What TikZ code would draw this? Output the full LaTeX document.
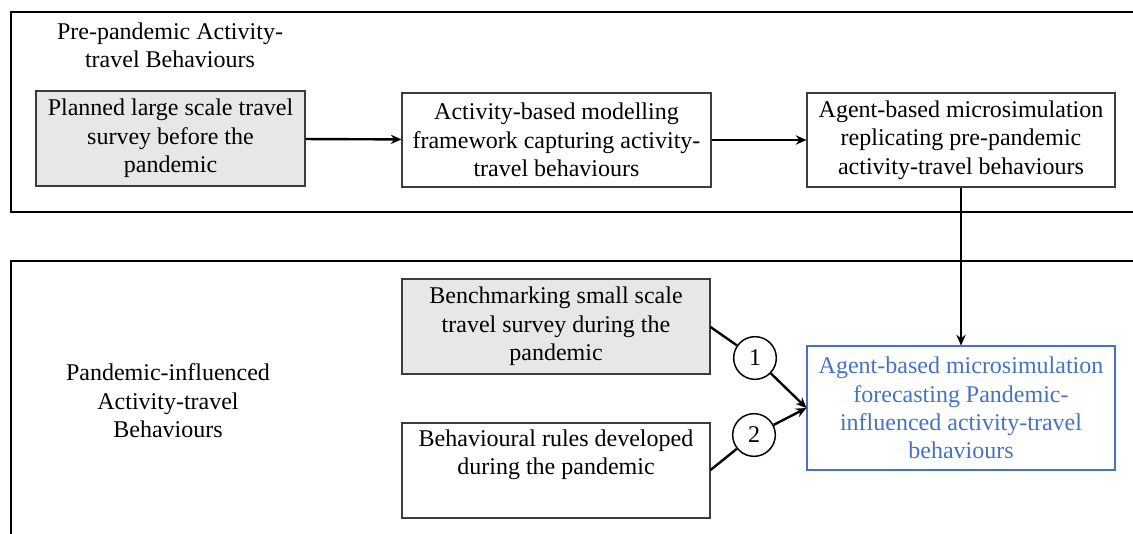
\documentclass[tikz,border=0pt]{standalone}
\usepackage{fontspec}
\setmainfont{Liberation Serif}
\usetikzlibrary{arrows.meta,calc}
\definecolor{boxgray}{RGB}{231,231,231}
\definecolor{myblue}{RGB}{68,114,196}
\definecolor{edgegray}{RGB}{60,60,60}
\begin{document}
\begin{tikzpicture}[x=0.75pt,y=-0.75pt,
  every node/.style={font=\fontsize{18}{21.3}\selectfont},
  box/.style={draw=edgegray,line width=0.8pt,align=center,inner sep=0pt},
  frame/.style={draw=black,line width=1.5pt},
  conn/.style={draw=black,line width=1.8pt},
  arr/.style={conn,-{Stealth[length=8pt,width=7pt]}},
  num/.style={draw=black,line width=1.1pt,circle,minimum size=32pt,inner sep=0pt}]
\useasboundingbox (0,0) rectangle (1133,533);
\draw[frame] (1140,12) -- (11,12) -- (11,212) -- (1140,212);
\draw[frame] (1140,261) -- (11,261) -- (11,540);
\node[align=center] (t1) at (170,45) {Pre-pandemic Activity-\\travel Behaviours};
\node[align=center] (t2) at (168,401) {Pandemic-influenced\\Activity-travel\\Behaviours};
\node[box,fill=boxgray,minimum width=269*0.75pt,minimum height=95*0.75pt] (A) at (170.5,138.5) {Planned large scale travel\\survey before the\\pandemic};
\node[box,minimum width=309*0.75pt,minimum height=94*0.75pt] (B) at (556.5,140) {Activity-based modelling\\framework capturing activity-\\travel behaviours};
\node[box,minimum width=308*0.75pt,minimum height=94*0.75pt] (C) at (961,140) {Agent-based microsimulation\\replicating pre-pandemic\\activity-travel behaviours};
\node[box,fill=boxgray,minimum width=308*0.75pt,minimum height=95*0.75pt] (D) at (556,326.5) {Benchmarking small scale\\travel survey during the\\pandemic};
\node[box,minimum width=308*0.75pt,minimum height=95*0.75pt] (E) at (556,470.5) {Behavioural rules developed\\during the pandemic\\\strut};
\node[box,draw=myblue,text=myblue,minimum width=308*0.75pt,minimum height=124*0.75pt] (F) at (961,408) {Agent-based microsimulation\\forecasting Pandemic-\\influenced activity-travel\\behaviours};
\node[num] (n1) at (755,358) {1};
\node[num] (n2) at (754,435) {2};
\coordinate (fin) at (F.west);
\draw[arr] (A) -- (B);
\draw[arr] (B) -- (C);
\draw[arr] (C.south) -- (F.north);
\draw[conn] (D.east |- 0,327) -- (n1);
\draw[arr] (n1) -- (fin);
\draw[conn] (E.east |- 0,470) -- (n2);
\draw[arr] (n2) -- (fin);
\end{tikzpicture}
\end{document}
